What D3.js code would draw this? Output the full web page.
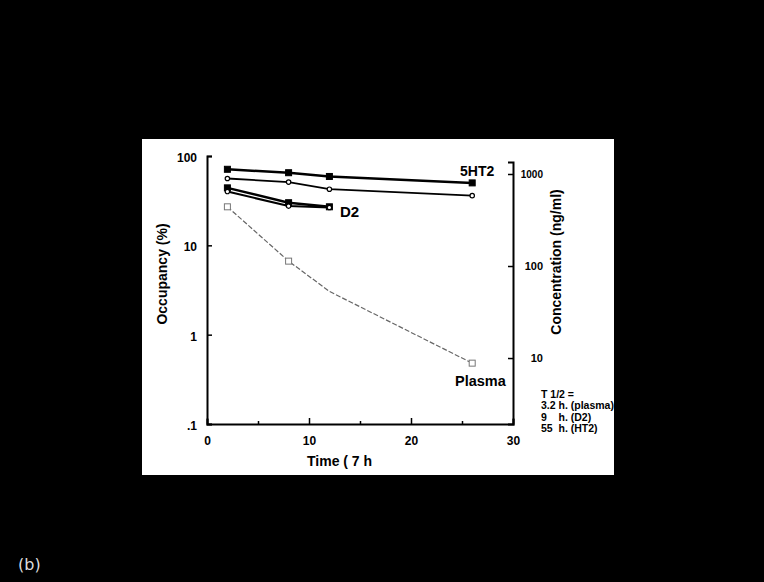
<!DOCTYPE html>
<meta charset="utf-8">
<script src="https://d3js.org/d3.v7.min.js"></script>
<style>
    body { margin: 0; background: #000; }
    text { font-family: "Liberation Sans", Arial, sans-serif; font-weight: bold; }
</style>
<div id="my_dataviz"></div>
<script>

    // values
    var times = [2, 8, 12, 26];
    var ht2Squares = [71, 65, 59, 50];     // 5HT2 occupancy, filled squares
    var ht2Circles = [56, 51, 42.5, 36];   // 5HT2 occupancy, open circles
    var d2Squares = [44, 30, 27];          // D2 occupancy, filled squares
    var d2Circles = [40, 27.5, 26.5];      // D2 occupancy, open circles
    var plasma = [440, 113, 53, 8.8];      // plasma concentration, ng/ml
    var xTicks = [0, 10, 20, 30];
    var yTicks = [0.1, 1, 10, 100];
    var yTickLabels = [".1", "1", "10", "100"];
    var concTicks = [10, 100, 1000];
    var halfLives = ["T 1/2 =", "3.2 h. (plasma)", "9    h. (D2)", "55  h. (HT2)"];

    var W = 764, H = 582;

    var svg = d3.select("#my_dataviz")
        .append("svg")
        .attr("width", W)
        .attr("height", H);

    svg.append("rect").attr("width", W).attr("height", H).attr("fill", "#000");
    // the white slide
    svg.append("rect")
        .attr("x", 142).attr("y", 139)
        .attr("width", 472).attr("height", 336)
        .attr("fill", "#fff");

    var x = d3.scaleLinear().domain([0, 30]).range([207, 513]);
    var y = d3.scaleLog().domain([0.1, 100]).range([424, 156]);
    var yConc = d3.scaleLog().domain([1.92, 1350]).range([424, 162]);

    // axes
    var gx = svg.append("g")
        .attr("transform", "translate(0,424)")
        .call(d3.axisBottom(x).tickValues([0, 5, 10, 15, 20, 25, 30])
            .tickSize(-5).tickFormat(function(d) { return xTicks.indexOf(d) >= 0 ? d : ""; }));
    gx.selectAll(".tick line").attr("y2", function(d) { return d % 10 === 0 ? -6 : -3; });

    var gy = svg.append("g")
        .attr("transform", "translate(207,0)")
        .call(d3.axisLeft(y).tickValues(yTicks).tickSize(-5)
            .tickFormat(function(d, i) { return yTickLabels[i]; }));

    var gr = svg.append("g")
        .attr("transform", "translate(513,0)")
        .call(d3.axisRight(yConc).tickValues(concTicks).tickSize(-5)
            .tickFormat(d3.format("d")));

    [gx, gy, gr].forEach(function(g) {
        g.select(".domain").attr("stroke", "#000").attr("stroke-width", 2);
        g.selectAll(".tick line").attr("stroke", "#000").attr("stroke-width", 1.5);
        g.selectAll("text").attr("fill", "#000")
            .style("font-family", "'Liberation Sans', Arial, sans-serif")
            .style("font-weight", "bold");
    });
    gx.selectAll("text").attr("font-size", 12).attr("y", 12);
    gy.selectAll("text").attr("font-size", 12).attr("x", -10).attr("dy", "0.45em");
    gr.selectAll("text").attr("font-size", function(d) { return d === 1000 ? 10 : 11; })
        .attr("x", 30).attr("text-anchor", "end").attr("dy", "0.35em");

    // lines
    function series(vals) {
        return vals.map(function(v, i) { return [times[i], v]; });
    }
    function drawLine(pts, scale, width, color, dash) {
        svg.append("path")
            .datum(pts)
            .attr("fill", "none")
            .attr("stroke", color)
            .attr("stroke-width", width)
            .attr("stroke-dasharray", dash || null)
            .attr("d", d3.line()
                .x(function(d) { return x(d[0]); })
                .y(function(d) { return scale(d[1]); }));
    }
    function squares(pts, scale, size, fill, stroke) {
        svg.append("g").selectAll("rect")
            .data(pts).enter().append("rect")
            .attr("x", function(d) { return x(d[0]) - size / 2; })
            .attr("y", function(d) { return scale(d[1]) - size / 2; })
            .attr("width", size).attr("height", size)
            .attr("fill", fill).attr("stroke", stroke).attr("stroke-width", 1);
    }
    function circles(pts, scale) {
        svg.append("g").selectAll("circle")
            .data(pts).enter().append("circle")
            .attr("cx", function(d) { return x(d[0]); })
            .attr("cy", function(d) { return scale(d[1]); })
            .attr("r", 2.2)
            .attr("fill", "#fff").attr("stroke", "#000").attr("stroke-width", 1.2);
    }

    var pHt2s = series(ht2Squares), pHt2c = series(ht2Circles);
    var pD2s = series(d2Squares), pD2c = series(d2Circles);
    var pPl = series(plasma);

    drawLine(pPl, yConc, 1.2, "#666", "5,2");
    drawLine(pHt2s, y, 2.5, "#000");
    drawLine(pHt2c, y, 1.8, "#000");
    drawLine(pD2s, y, 2.5, "#000");
    drawLine(pD2c, y, 2, "#000");

    squares(pHt2s, y, 6, "#000", "#000");
    circles(pHt2c, y);
    squares(pD2s, y, 6, "#000", "#000");
    circles(pD2c, y);
    squares(pPl.filter(function(d) { return d[0] !== 12; }), yConc, 6, "#fff", "#777");

    // labels
    svg.append("text").attr("x", 460).attr("y", 176).attr("font-size", 14).text("5HT2");
    svg.append("text").attr("x", 340).attr("y", 217).attr("font-size", 15).text("D2");
    svg.append("text").attr("x", 455).attr("y", 386).attr("font-size", 14.5).text("Plasma");

    svg.append("text").attr("x", 307).attr("y", 466).attr("font-size", 14).text("Time ( 7 h");
    svg.append("text")
        .attr("transform", "translate(167,274) rotate(-90)")
        .attr("text-anchor", "middle").attr("font-size", 14).text("Occupancy (%)");
    svg.append("text")
        .attr("transform", "translate(561,262) rotate(-90)")
        .attr("text-anchor", "middle").attr("font-size", 14).text("Concentration (ng/ml)");

    svg.append("g").selectAll("text")
        .data(halfLives).enter().append("text")
        .attr("x", 541)
        .attr("y", function(d, i) { return 398 + i * 11.4; })
        .attr("font-size", 10.5)
        .style("white-space", "pre")
        .attr("xml:space", "preserve")
        .text(function(d) { return d; });

    svg.append("text")
        .attr("x", 18).attr("y", 570)
        .attr("font-size", 16)
        .style("font-family", "'DejaVu Sans', sans-serif")
        .style("font-weight", "normal")
        .attr("fill", "#ddd")
        .text("(b)");

</script>
